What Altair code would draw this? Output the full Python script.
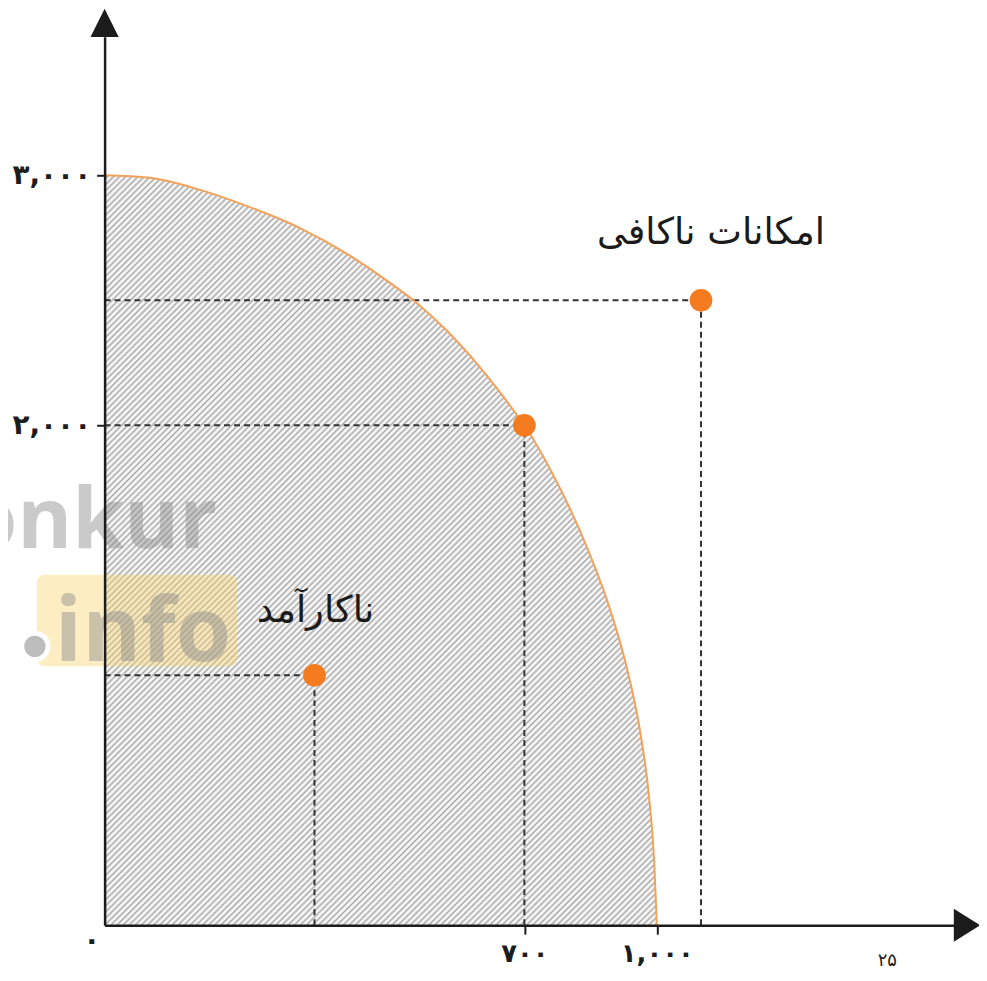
import altair as alt
import pandas as pd

# ---- data ----
# production-possibility frontier (x good, y good)
curve_x = [0, 75, 155, 240, 325, 405, 470, 520, 570, 625, 685, 700, 770, 838, 892, 930, 962, 982, 994, 1000]
curve_y = [3000, 2990, 2945, 2875, 2790, 2685, 2580, 2490, 2380, 2235, 2050, 2000, 1785, 1528, 1275, 1044, 777, 518, 255, 0]

# the three marked combinations
point_x = [350, 700, 1100]
point_y = [1000, 2000, 2500]
point_label = ["ناکارآمد", "", "امکانات ناکافی"]

x_ticks = [700, 1000]
x_tick_labels = ["۷۰۰", "۱,۰۰۰"]
y_ticks = [2000, 3000]
y_tick_labels = ["۲,۰۰۰", "۳,۰۰۰"]
origin_label = ["۰"]
page_number = "۲۵"
watermark_top = "Konkur"
watermark_bottom = "info"

# ---- tables ----
curve_df = pd.DataFrame({"x": curve_x, "y": curve_y})
pts_df = pd.DataFrame({"x": point_x, "y": point_y, "label": point_label, "zero": [0] * len(point_x)})
origin_df = pd.DataFrame({"x": [0], "y": [0], "t": origin_label})
one = pd.DataFrame({"a": [0]})

W, H = 853, 892
FONT = "DejaVu Sans"
AX = "#1c1c1c"


def label_expr(vals, labels):
    expr = "''"
    for v, l in reversed(list(zip(vals, labels))):
        expr = f"datum.value == {v} ? '{l}' : ({expr})"
    return expr


xscale = alt.Scale(domain=[0, 700, 1000, 1673], range=[0, 421.5, 554.5, W], nice=False, zero=False)
yscale = alt.Scale(domain=[0, 3554], nice=False, zero=False)

xaxis = alt.Axis(values=x_ticks, labelExpr=label_expr(x_ticks, x_tick_labels), title=None, grid=False,
                 domainColor=AX, domainWidth=2.5, tickColor=AX, tickWidth=2, tickSize=9,
                 labelFont=FONT, labelFontSize=26, labelFontWeight="bold", labelColor=AX, labelPadding=6,
                 labelFlush=False, labelOverlap=False, zindex=2)
yaxis = alt.Axis(values=y_ticks, labelExpr=label_expr(y_ticks, y_tick_labels), title=None, grid=False,
                 domainColor=AX, domainWidth=2.5, tickColor=AX, tickWidth=2, tickSize=8,
                 labelFont=FONT, labelFontSize=28, labelFontWeight="bold", labelColor=AX, labelPadding=6,
                 labelFlush=False, labelOverlap=False, zindex=2)

# diagonal hatch as a striped linear gradient (style only)
bw, bh = 554.5, 753.0
L = (bw * bw + bh * bh) / (bw + bh)
N = 213
light, dark = "#f5f5f5", "#a8a8a8"
stops = []
for k in range(N):
    b = k / N
    stops.append(alt.GradientStop(offset=round(b, 6), color=light))
    stops.append(alt.GradientStop(offset=round(b + 0.35 / N, 6), color=light))
    stops.append(alt.GradientStop(offset=round(b + 0.68 / N, 6), color=dark))
stops.append(alt.GradientStop(offset=1, color=light))
hatch = alt.LinearGradient(gradient="linear", stops=stops, x1=0, y1=0, x2=bw / L, y2=bh / L)


def X(f="x"):
    return alt.X(f"{f}:Q", scale=xscale, axis=xaxis)


def Y(f="y"):
    return alt.Y(f"{f}:Q", scale=yscale, axis=yaxis)


area = alt.Chart(curve_df).mark_area(color=hatch, interpolate="monotone").encode(x=X(), y=Y())

# watermark
wm_box = alt.Chart(one).mark_rect(color="#f8d36a", opacity=0.4, cornerRadius=8).encode(
    x=alt.value(-68), x2=alt.value(133), y=alt.value(540), y2=alt.value(632))
wm_top = alt.Chart(one).mark_text(text=watermark_top, font="Open Sans", fontWeight="bold", fontSize=84,
                                  align="right", baseline="alphabetic", color="#8c8c8c", opacity=0.45).encode(
    x=alt.value(113), y=alt.value(513))
wm_bot = alt.Chart(one).mark_text(text=watermark_bottom, font="Open Sans", fontWeight="bold", fontSize=90,
                                  align="left", baseline="alphabetic", color="#8c8c8c", opacity=0.45).encode(
    x=alt.value(-50), y=alt.value(627))
wm_dot = alt.Chart(one).mark_point(shape="circle", filled=True, size=700, fill="#bdbdbd", stroke="white",
                                   strokeWidth=5, opacity=1).encode(x=alt.value(-70), y=alt.value(612))

hrule = alt.Chart(pts_df).mark_rule(color="#333333", strokeWidth=2, strokeDash=[6, 4]).encode(
    x=X("zero"), x2="x:Q", y=Y())
vrule = alt.Chart(pts_df).mark_rule(color="#333333", strokeWidth=2, strokeDash=[6, 4]).encode(
    x=X(), y=Y("zero"), y2="y:Q")

line = alt.Chart(curve_df).mark_line(color="#f4a259", strokeWidth=2, interpolate="monotone").encode(x=X(), y=Y())

dots = alt.Chart(pts_df).mark_circle(size=520, color="#f47b20", opacity=1).encode(x=X(), y=Y())

lab1 = alt.Chart(pts_df).transform_filter(alt.datum.x == point_x[0]).mark_text(
    font=FONT, fontSize=37, color="#1a1a1a", baseline="alphabetic", dx=1, dy=-53).encode(x=X(), y=Y(), text="label:N")
lab3 = alt.Chart(pts_df).transform_filter(alt.datum.x == point_x[2]).mark_text(
    font=FONT, fontSize=37, color="#1a1a1a", baseline="alphabetic", dx=10, dy=-57).encode(x=X(), y=Y(), text="label:N")

origin = alt.Chart(origin_df).mark_text(font=FONT, fontSize=28, fontWeight="bold", color=AX, dx=-13, dy=16).encode(
    x=X(), y=Y(), text="t:N")

pnum = alt.Chart(one).mark_text(text=page_number, font=FONT, fontSize=18, color="#222222").encode(
    x=alt.value(786), y=alt.value(928))

arrow_y = alt.Chart(one).mark_point(shape="M0,-1L1,1L-1,1Z", filled=True, size=800, color=AX, opacity=1).encode(
    x=alt.value(0), y=alt.value(-14))
arrow_x = alt.Chart(one).mark_point(shape="M-0.8,-1L0.8,0L-0.8,1Z", filled=True, size=1100, color=AX, opacity=1).encode(
    x=alt.value(866), y=alt.value(H))

chart = alt.layer(area, wm_box, wm_top, wm_bot, wm_dot, hrule, vrule, line, dots, lab1, lab3, origin, pnum,
                  arrow_y, arrow_x).properties(
    width=W, height=H,
    padding={"left": 97, "top": 27, "right": 25, "bottom": 46},
    autosize=alt.AutoSizeParams(type="none"),
    background="white",
).configure_view(stroke=None)

chart.save("out.html", embed_options={"renderer": "svg", "actions": False})
